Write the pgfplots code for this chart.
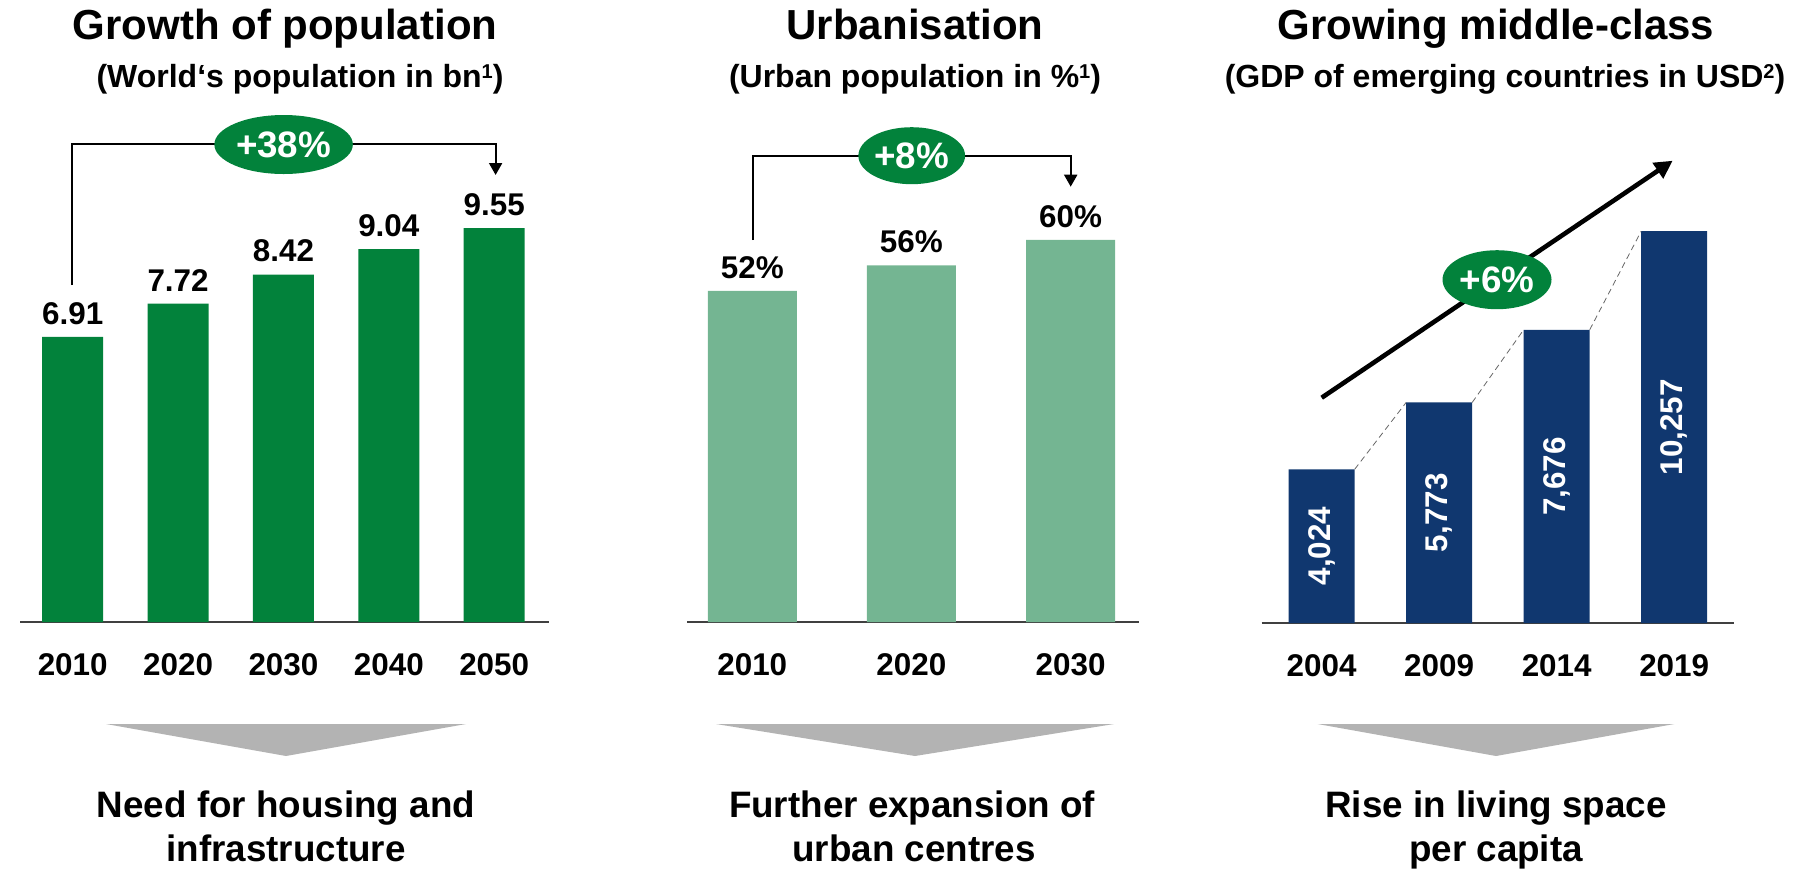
\documentclass[border=0pt]{standalone}
\usepackage{fontspec}
\setmainfont{Liberation Sans}
\usepackage{pgfplots}
\pgfplotsset{compat=1.18}
\usepackage{pgfplotstable}
\usetikzlibrary{arrows.meta,shapes.geometric}
\definecolor{pgreen}{HTML}{02823B}
\definecolor{lgreen}{HTML}{74B592}
\definecolor{navy}{HTML}{10376F}
\definecolor{tri}{HTML}{B3B3B3}
\newcommand{\fs}[2]{\bfseries\fontsize{#1}{#2}\selectfont}
\newcommand{\supnum}[1]{\raisebox{4.3pt}{\fontsize{10}{12}\selectfont #1}}

\pgfplotstableread{
x val
0 6.91
1 7.72
2 8.42
3 9.04
4 9.55
}\popdata
\pgfplotstableread{
x val
0 52
1 56
2 60
}\urbdata
\pgfplotstableread{
x gdp
0 4024
1 5773
2 7676
3 10257
}\gdpdata

\pgfplotsset{
  panel/.style={
    scale only axis, ybar, enlargelimits=false, clip=false,
    axis x line*=bottom, axis y line=none,
    x axis line style={-, draw=black!75, line width=1pt},
    xtick=data, major tick length=0pt,
    xticklabel style={font=\fs{15.7}{18}, anchor=center, yshift=-21.5pt},
    ymin=0, anchor=south west, point meta=y,
    /pgf/number format/assume math mode=true,
  }
}

\begin{document}
\begin{tikzpicture}[x=0.5pt,y=-0.5pt]
\useasboundingbox (0,0) rectangle (1804,869);

% ---------------- Panel 1 ----------------
\begin{axis}[panel, at={(10pt,-311pt)}, width=264.5pt, height=206.25pt,
  xmin=-0.5, xmax=4.52, ymax=10, bar width=30.5pt,
  xticklabels={2010,2020,2030,2040,2050},
  nodes near coords={\pgfmathprintnumber[fixed,fixed zerofill,precision=2]{\pgfplotspointmeta}},
  nodes near coords style={font=\fs{15.7}{18}, anchor=south, inner sep=0pt, yshift=6pt, text=black}]
\addplot[fill=pgreen, draw=none] table[x=x,y=val]{\popdata};
\end{axis}

% ---------------- Panel 2 ----------------
\begin{axis}[panel, at={(343.5pt,-311pt)}, width=226pt, height=207pt,
  xmin=-0.41, xmax=2.43, ymax=65, bar width=44.5pt,
  xticklabels={2010,2020,2030},
  nodes near coords={\pgfmathprintnumber[fixed,precision=0]{\pgfplotspointmeta}\%},
  nodes near coords style={font=\fs{15.7}{18}, anchor=south, inner sep=0pt, yshift=6pt, text=black}]
\addplot[fill=lgreen, draw=none] table[x=x,y=val]{\urbdata};
\end{axis}

% ---------------- Panel 3 ----------------
\begin{axis}[panel, at={(630.85pt,-311.5pt)}, width=236.2pt, height=210.1pt,
  xmin=-0.51, xmax=3.51, ymax=11000, bar width=33pt,
  xticklabels={2004,2009,2014,2019},
  visualization depends on={\thisrow{gdp} \as \gdpval},
  nodes near coords={\pgfmathprintnumber[fixed,precision=0,1000 sep={,}]{\pgfplotspointmeta}},
  nodes near coords style={font=\fs{15.7}{18}, text=white, anchor=center, inner sep=0pt,
     shift={(axis direction cs:0,-\gdpval/2)}, rotate=90}]
\addplot[fill=navy, draw=none] table[x=x,y=gdp]{\gdpdata};
\draw[densely dashed, black!60, line width=0.4pt]
  (axis cs:0.281,4024) -- (axis cs:0.719,5773)
  (axis cs:1.281,5773) -- (axis cs:1.719,7676)
  (axis cs:2.281,7676) -- (axis cs:2.719,10257);
\end{axis}

% ---------------- Titles ----------------
\node[anchor=base, font=\fs{21}{25}] at (285,39) {Growth of population};
\node[anchor=base, font=\fs{16}{19}] at (300,87) {(World‘s population in bn\supnum{1})};
\node[anchor=base, font=\fs{21}{25}] at (915,39) {Urbanisation};
\node[anchor=base, font=\fs{16}{19}] at (915,87) {(Urban population in \%\supnum{1})};
\node[anchor=base, font=\fs{21}{25}] at (1496,39) {Growing middle-class};
\node[anchor=base, font=\fs{16}{19}] at (1505,87) {(GDP of emerging countries in USD\supnum{2})};

% ---------------- Brackets / growth markers ----------------
\draw[line width=1pt, -{Triangle[length=6pt,width=6.5pt]}]
  (72.3,285) -- (72.3,144) -- (495.6,144) -- (495.6,175);
\node[ellipse, fill=pgreen, minimum width=69.25pt, minimum height=29.5pt, inner sep=0pt,
  text=white, font=\fs{18.4}{20}] at (283.6,144.5) {+38\%};

\draw[line width=1pt, -{Triangle[length=6pt,width=6.5pt]}]
  (753.3,240) -- (753.3,156) -- (1070.7,156) -- (1070.7,186.7);
\node[ellipse, fill=pgreen, minimum width=53.35pt, minimum height=28.5pt, inner sep=0pt,
  text=white, font=\fs{18.4}{20}] at (911.7,155.7) {+8\%};

\draw[line width=2.3pt, -{Triangle[length=9pt,width=9pt]}]
  (1321.7,397.7) -- (1672.7,160.7);
\node[ellipse, fill=pgreen, minimum width=54.5pt, minimum height=29.5pt, inner sep=0pt,
  text=white, font=\fs{18.4}{20}] at (1497,279.7) {+6\%};

% ---------------- Bottom conclusions ----------------
\fill[tri] (106,724) -- (466,724) -- (286,756) -- cycle;
\fill[tri] (716,724) -- (1114,724) -- (915,756) -- cycle;
\fill[tri] (1317.6,724) -- (1674.3,724) -- (1496,756) -- cycle;

\node[anchor=base, font=\fs{18.4}{22}] at (286,817) {Need for housing and};
\node[anchor=base, font=\fs{18.4}{22}] at (286,861) {infrastructure};
\node[anchor=base, font=\fs{18.4}{22}] at (912,817) {Further expansion of};
\node[anchor=base, font=\fs{18.4}{22}] at (914,861) {urban centres};
\node[anchor=base, font=\fs{18.4}{22}] at (1496,817) {Rise in living space};
\node[anchor=base, font=\fs{18.4}{22}] at (1496,861) {per capita};
\end{tikzpicture}
\end{document}
